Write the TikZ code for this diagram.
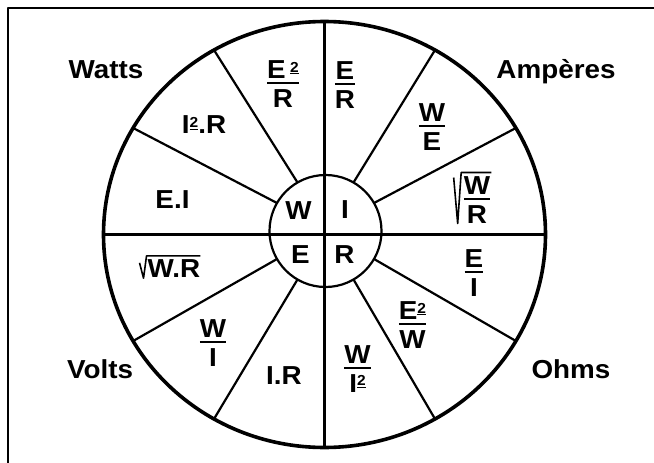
\documentclass[tikz,border=0pt]{standalone}
\usepackage{fontspec}
\setmainfont{Liberation Sans}[FakeStretch=1.07]
\usetikzlibrary{calc}
\newcommand\fr[2]{{\setlength\tabcolsep{0pt}\setlength\arrayrulewidth{2.2pt}\renewcommand\arraystretch{0}\begin{tabular}{c}\rule[-3.5pt]{0pt}{3.5pt}#1\\\hline\rule{0pt}{23pt}#2\end{tabular}}}
\newcommand\sq{\raisebox{6.5pt}{\fontsize{14.5}{14.5}\selectfont\underline{2}}}
\begin{document}
\begin{tikzpicture}[x=1pt,y=-1pt,line join=round,
  txt/.style={font=\fontsize{26}{29}\selectfont\bfseries,inner sep=0pt},
  lbl/.style={txt,anchor=base},
  rim/.style={line width=3.6pt},
  axisline/.style={line width=3pt},
  spoke/.style={line width=2.2pt},
  hub/.style={line width=2.2pt},
  framel/.style={line width=2pt},
  rad/.style={line width=1.6pt}]
\useasboundingbox (0,0) rectangle (654,463);
\coordinate (C) at (324.5,234.5);
\coordinate (H) at (325.5,231);
% frame
\draw[framel] (8,463) -- (8,8) -- (654,8);
% spokes
\foreach \a in {30,60,120,150,210,240,300,330}
  \draw[spoke] ($(H)+({56*cos(\a)},{-56*sin(\a)})$) -- ($(C)+({221*cos(\a)},{-213*sin(\a)})$);
% axes
\draw[axisline] ($(C)+(0,-213)$) -- ($(C)+(0,213)$);
\draw[axisline] ($(C)+(-221,0)$) -- ($(C)+(221,0)$);
% hub and rim
\draw[hub] (H) circle [radius=56pt];
\draw[rim] (C) ellipse [x radius=221pt, y radius=213pt];
% outside labels
\node[lbl] (watts) at (106,78) {Watts};
\node[lbl] (amp) at (556,78) {Ampères};
\node[lbl] (volts) at (100,378) {Volts};
\node[lbl] (ohms) at (571,378) {Ohms};
% hub letters
\node[txt] (hW) at (298.5,211) {W};
\node[txt] (hI) at (345,210) {I};
\node[txt] (hE) at (300.5,255) {E};
\node[txt] (hR) at (344.5,255) {R};
% upper left
\node[txt] (s1) at (283,84) {\fr{E\,\sq}{R}};
\node[txt] (s2) at (204,125) {I\sq.R};
\node[txt] (s3) at (172.5,200) {E.I};
% upper right
\node[txt] (s4) at (345,85) {\fr{E}{R}};
\node[txt] (s5) at (432,127) {\fr{W}{E}};
\node[txt] (s6) at (477,200) {\fr{W}{R}};
\draw[rad] ([xshift=-10pt,yshift=-1pt]s6.north west) -- ([xshift=-6pt]s6.south west) -- ([xshift=-2.5pt,yshift=4pt]s6.north west) -- ([xshift=1pt,yshift=4pt]s6.north east);
% lower left
\node[txt] (s7) at (174,269) {W.R};
\draw[rad] ([xshift=-8pt,yshift=-3pt]s7.north west) -- ([xshift=-4pt]s7.south west) -- ([xshift=-1pt,yshift=4pt]s7.north west) -- ([yshift=4pt]s7.north east);
\node[txt] (s8) at (213,343) {\fr{W}{I}};
\node[txt] (s9) at (284,376) {I.R};
% lower right
\node[txt] (s10) at (474,273) {\fr{E}{I}};
\node[txt] (s11) at (412.5,325) {\fr{E\sq}{W}};
\node[txt] (s12) at (357.5,369) {\fr{W}{I\sq}};
\end{tikzpicture}
\end{document}
